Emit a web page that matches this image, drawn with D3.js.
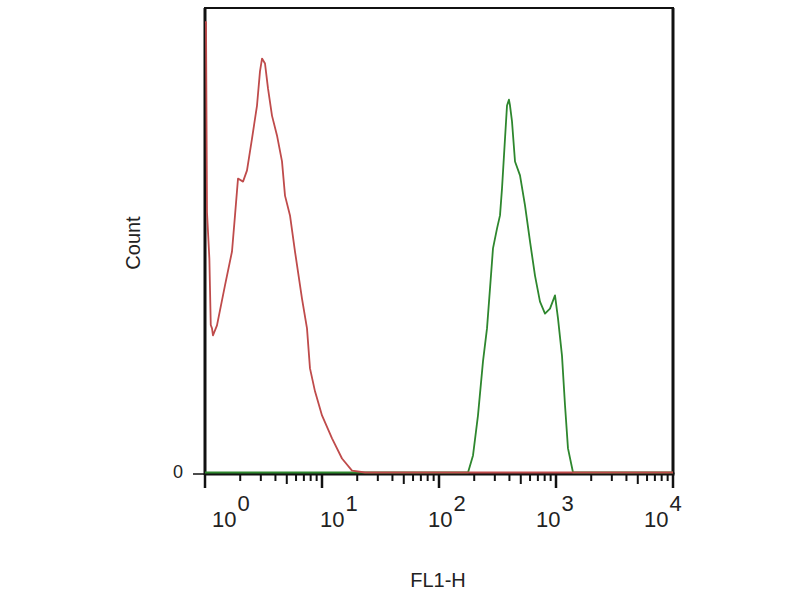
<!DOCTYPE html>
<html>
<head>
<meta charset="utf-8">
<script src="https://cdn.jsdelivr.net/npm/d3@7/dist/d3.min.js"></script>
<style>
  html, body { margin: 0; padding: 0; background: #fff; }
  svg { display: block; }
  text { font-family: "Liberation Sans", Arial, sans-serif; fill: #222; }
</style>
</head>
<body>
<svg id="chart" width="800" height="600"></svg>
<script>
// ---- data ----
const redX = [1.0, 1.02, 1.04, 1.09, 1.12, 1.148, 1.17, 1.266, 1.482, 1.701, 1.805, 1.915, 2.113, 2.286, 2.522, 2.783, 2.951, 3.071, 3.258, 3.455, 3.737, 4.124, 4.551, 4.828, 5.327, 5.878, 6.745, 7.443, 7.895, 8.713, 10.0, 12.18, 14.82, 18.05, 23.3, 10000];
const redY = [116, 116, 67, 55, 38, 37.1, 35.3, 37.9, 48.2, 56.9, 66.2, 75.7, 74.9, 77.8, 86.0, 94.5, 103.3, 106.6, 105.3, 98.9, 91.9, 86.8, 80.1, 71.3, 66.2, 56.9, 44.8, 37.1, 26.8, 20.9, 14.7, 8.8, 3.6, 0.5, 0, 0];

const greenX = [1, 177, 195.3, 215.4, 237.7, 257.2, 272.9, 289.4, 313.1, 332.2, 345.5, 366.6, 381.3, 396, 404.5, 420.7, 446.3, 492.4, 543.3, 599.5, 661.4, 729.7, 805.4, 888.6, 980.6, 1040, 1125, 1194, 1266, 1398, 10000];
const greenY = [0, 0, 4.4, 14.7, 28.6, 37.1, 47.4, 57.7, 62.8, 66.2, 73.1, 86.0, 94.5, 96, 94.5, 90.4, 80.1, 76.5, 68.8, 59.5, 50.7, 44.0, 40.9, 42.2, 45.6, 39.7, 30.1, 17.3, 6.2, 0, 0];

const xTickExponents = [0, 1, 2, 3, 4];
const yTickLabels = ["0"];
const xTitle = "FL1-H";
const yTitle = "Count";

// ---- layout ----
const pL = 205, pR = 673, pT = 8, pB = 474;
const svg = d3.select("#chart");

const x = d3.scaleLog().domain([1, 10000]).range([pL, pR]);
const y = d3.scaleLinear().domain([0, 120]).range([pB, pT]);

// minor / major ticks
const ticks = x.ticks();
const tickG = svg.append("g");
ticks.forEach(v => {
  const lg = Math.log10(v);
  const mant = Math.round(v / Math.pow(10, Math.floor(lg + 1e-9)));
  const isMajor = Math.abs(lg - Math.round(lg)) < 1e-9;
  const len = isMajor ? 14 : (mant === 5 ? 10 : 7);
  tickG.append("line")
    .attr("x1", x(v)).attr("x2", x(v))
    .attr("y1", pB).attr("y2", pB + len)
    .attr("stroke", "#111").attr("stroke-width", isMajor ? 2.5 : 2);
});

// x tick labels 10^n
const labelPos = d3.scaleLinear().domain([0, 4]).range([212, 644]);
xTickExponents.forEach(e => {
  const t = svg.append("text")
    .attr("x", labelPos(e)).attr("y", 527)
    .attr("font-size", 22);
  t.append("tspan").text("10");
  t.append("tspan").attr("dx", 1).attr("dy", -16).text(String(e));
});

// y tick "0"
svg.append("line")
  .attr("x1", pL - 12).attr("x2", pL)
  .attr("y1", y(0)).attr("y2", y(0))
  .attr("stroke", "#111").attr("stroke-width", 1.5);
svg.append("text")
  .attr("x", 178).attr("y", y(0) + 4)
  .attr("text-anchor", "middle")
  .attr("font-size", 18)
  .text(yTickLabels[0]);

// axis titles
svg.append("text")
  .attr("x", 438).attr("y", 587)
  .attr("text-anchor", "middle")
  .attr("font-size", 20)
  .text(xTitle);
svg.append("text")
  .attr("transform", "translate(140,243) rotate(-90)")
  .attr("text-anchor", "middle")
  .attr("font-size", 20)
  .text(yTitle);

// frame
svg.append("line").attr("x1", pL - 1).attr("x2", pR + 1).attr("y1", pT).attr("y2", pT)
  .attr("stroke", "#111").attr("stroke-width", 2);
svg.append("line").attr("x1", pR).attr("x2", pR).attr("y1", pT).attr("y2", pB)
  .attr("stroke", "#111").attr("stroke-width", 3);
svg.append("line").attr("x1", pL).attr("x2", pL).attr("y1", pT).attr("y2", pB + 1)
  .attr("stroke", "#111").attr("stroke-width", 3);
svg.append("line").attr("x1", pL - 1).attr("x2", pR + 1.5).attr("y1", pB).attr("y2", pB)
  .attr("stroke", "#111").attr("stroke-width", 3);

// curves
const line = d3.line().x(d => x(d[0])).y(d => y(d[1]) - 1.5);
svg.append("path")
  .datum(greenX.map((v, i) => [v, greenY[i]]))
  .attr("d", line)
  .attr("fill", "none").attr("stroke", "#2e872e").attr("stroke-width", 1.8)
  .attr("stroke-linejoin", "round");
svg.append("path")
  .datum(redX.map((v, i) => [v, redY[i]]))
  .attr("d", line)
  .attr("fill", "none").attr("stroke", "#bf4b4b").attr("stroke-width", 1.8)
  .attr("stroke-linejoin", "round");
</script>
</body>
</html>
